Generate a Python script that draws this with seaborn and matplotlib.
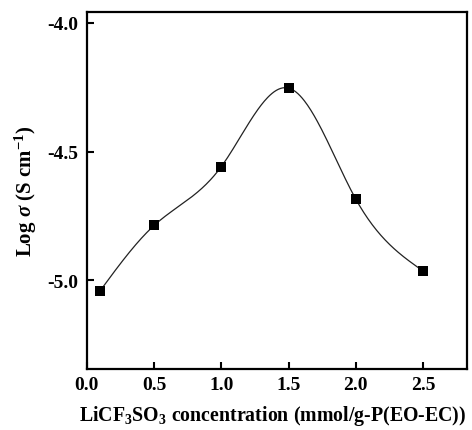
import numpy as np
import pandas as pd
import seaborn as sns
from matplotlib import pyplot as plt

# LiCF3SO3 concentration vs log conductivity
conc = [0.1, 0.5, 1.0, 1.5, 2.0, 2.5]
log_sigma = [-5.04, -4.787, -4.558, -4.253, -4.685, -4.964]
xticks = [0.0, 0.5, 1.0, 1.5, 2.0, 2.5]
yticks = [-5.0, -4.5, -4.0]


def natural_spline(x, y, xs):
    x = np.asarray(x, float)
    y = np.asarray(y, float)
    n = len(x)
    h = np.diff(x)
    A = np.zeros((n, n))
    b = np.zeros(n)
    A[0, 0] = A[-1, -1] = 1
    for i in range(1, n - 1):
        A[i, i - 1] = h[i - 1]
        A[i, i] = 2 * (h[i - 1] + h[i])
        A[i, i + 1] = h[i]
        b[i] = 6 * ((y[i + 1] - y[i]) / h[i] - (y[i] - y[i - 1]) / h[i - 1])
    M = np.linalg.solve(A, b)
    idx = np.clip(np.searchsorted(x, xs) - 1, 0, n - 2)
    x0, x1 = x[idx], x[idx + 1]
    hh = x1 - x0
    t0, t1 = x1 - xs, xs - x0
    return (M[idx] * t0**3 / (6 * hh) + M[idx + 1] * t1**3 / (6 * hh)
            + (y[idx] / hh - M[idx] * hh / 6) * t0
            + (y[idx + 1] / hh - M[idx + 1] * hh / 6) * t1)


sns.set_style("ticks", {"axes.edgecolor": "black", "text.color": "black",
                        "axes.labelcolor": "black", "xtick.color": "black",
                        "ytick.color": "black"})
plt.rcParams['font.family'] = ['Liberation Serif', 'DejaVu Serif']
plt.rcParams['font.weight'] = 'bold'
plt.rcParams['mathtext.fontset'] = 'custom'
plt.rcParams['mathtext.rm'] = 'Liberation Serif:bold'
plt.rcParams['mathtext.it'] = 'Liberation Serif:italic:bold'
plt.rcParams['mathtext.bf'] = 'Liberation Serif:bold'

fig = plt.figure(figsize=(4.72, 4.31), dpi=100)
ax = fig.add_axes([0.184, 0.1415, 0.805, 0.8285])

xs = np.linspace(conc[0], conc[-1], 300)
curve = pd.DataFrame({"x": xs, "y": natural_spline(conc, log_sigma, xs)})
pts = pd.DataFrame({"x": conc, "y": log_sigma})

sns.lineplot(data=curve, x="x", y="y", ax=ax, color="#222222", linewidth=0.9)
sns.scatterplot(data=pts, x="x", y="y", ax=ax, marker="s", s=55,
                color="black", edgecolor="black", linewidth=0, zorder=3)

ax.set_xlim(0, 2.825)
ax.set_ylim(-5.345, -3.957)
ax.set_xticks(xticks)
ax.set_xticklabels([f"{v:.1f}" for v in xticks])
ax.set_yticks(yticks)
ax.set_yticklabels([f"{v:.1f}" for v in yticks])
ax.tick_params(direction="in", length=5, width=1.5, labelsize=14,
               top=False, right=False)
ax.tick_params(axis="x", pad=5)
ax.tick_params(axis="y", pad=6)
for sp in ax.spines.values():
    sp.set_linewidth(1.6)
    sp.set_visible(True)

ax.set_xlabel(r"LiCF$_3$SO$_3$ concentration (mmol/g-P(EO-EC))",
              fontsize=14.3, fontweight="bold")
ax.xaxis.set_label_coords(0.49, -0.095)
ax.set_ylabel(r"Log $\mathit{\sigma}$ (S cm$^{-1}$)",
              fontsize=15, fontweight="bold", labelpad=6)

fig.savefig("out.png", dpi=100)
